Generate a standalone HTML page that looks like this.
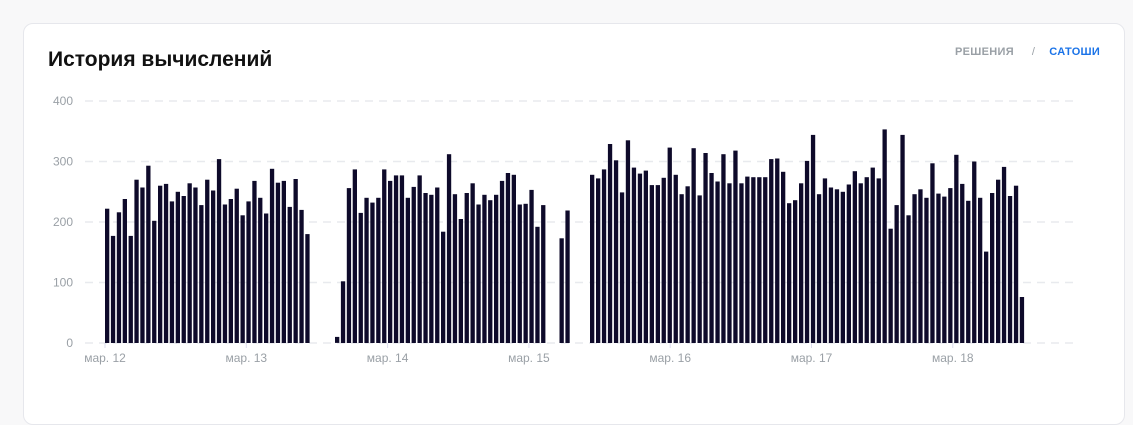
<!DOCTYPE html>
<html><head><meta charset="utf-8"><style>
body{margin:0;width:1133px;height:408px;background:#f8f8f9;font-family:"Liberation Sans",sans-serif;overflow:hidden}
.card{position:absolute;left:23px;top:23px;width:1100px;height:400px;background:#fff;border:1px solid #e6e7ec;border-radius:10px}
.t{position:absolute;left:48px;top:48px;font-size:21px;font-weight:bold;color:#111}
.tabs{position:absolute;top:46px;left:955px;font-size:11px;font-weight:bold;color:#9aa0a6;letter-spacing:0.3px}
.tabs b{color:#1a73e8}
</style></head><body>
<div class="card"></div>
<div class="t">История вычислений</div>
<div class="tabs">РЕШЕНИЯ<span style="margin:0 14px 0 18px;font-weight:normal">/</span><b>САТОШИ</b></div>
<svg id="s" width="1133" height="408" style="position:absolute;left:0;top:0" font-family="Liberation Sans" font-size="12" fill="#9aa0a6"></svg>
<script>
var s=document.getElementById('s'),h='';
[0,100,200,300,400].forEach(function(v){var y=343-v*0.605;
h+='<line x1="85" x2="1075" y1="'+y+'" y2="'+y+'" stroke="#e8eaee" stroke-width="1.5" stroke-dasharray="8,6"/>';
h+='<text x="73" y="'+(y+4)+'" text-anchor="end">'+v+'</text>';});
['мар. 12','мар. 13','мар. 14','мар. 15','мар. 16','мар. 17','мар. 18'].forEach(function(l,i){var x=105+i*141.3;
h+='<line x1="'+x+'" x2="'+x+'" y1="343" y2="348" stroke="#dde"/><text x="'+x+'" y="362" text-anchor="middle">'+l+'</text>';});
function seg(x0,st,a){a.forEach(function(v,i){var x=x0+i*st,ht=v*0.605;
h+='<rect x="'+x.toFixed(1)+'" y="'+(343-ht).toFixed(1)+'" width="4.3" height="'+ht.toFixed(1)+'" fill="#0e0a2a"/>';});}
seg(105,5.89,[222,177,216,238,177,270,257,293,202,260,263,234,250,243,264,257,228,270,252,304,229,238,255,211,234,268,240,214,288,265,268,225,271,220,180]);
seg(335,5.89,[10,102,256,287,215,240,232,240,287,268,277,277,240,258,277,248,245,257,184,312,246,205,248,264,229,245,236,245,268,281,278,229,230,253,192,228]);
seg(559.5,5.89,[173,219]);
seg(590,5.97,[278,272,287,329,302,249,335,290,280,285,261,261,273,323,278,246,259,322,244,314,281,267,312,264,318,264,275,274,274,274,304,305,283,231,236,264,301,344,246,272,257,254,250,262,284,264,274,290,272,353,189,228,344,211,246,254,240,297,247,242,256,311,263,235,300,240,151,248,270,291,243,260,76]);
s.innerHTML=h;
</script>
</body></html>
